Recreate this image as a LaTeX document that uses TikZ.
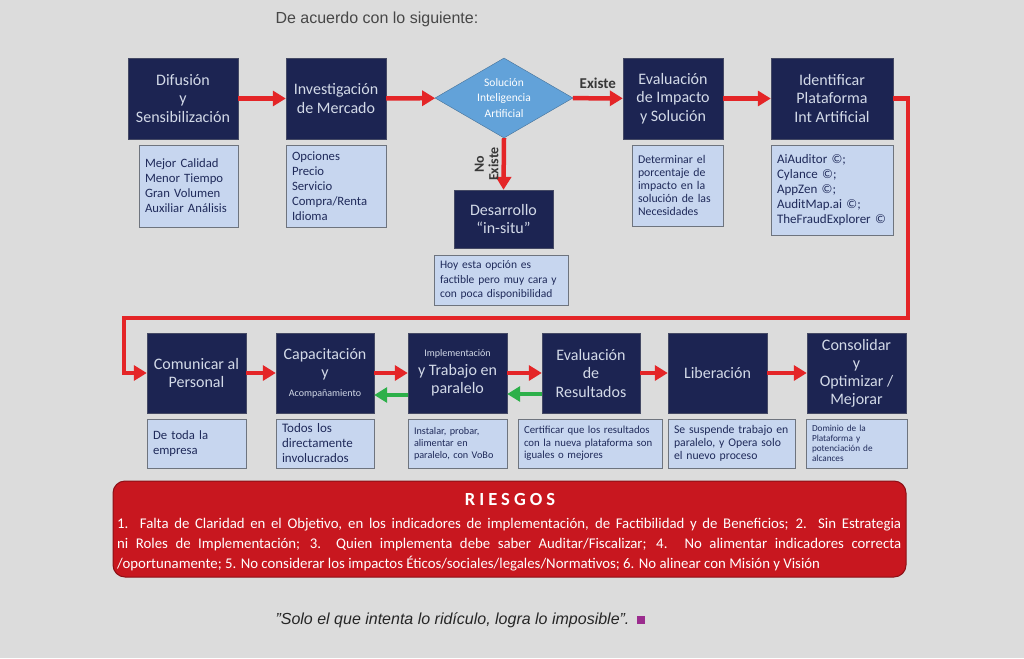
\documentclass[tikz,border=0pt]{standalone}
\usepackage{fontspec}
\setmainfont{Carlito}
\newfontfamily\plainfont{Liberation Sans}
\usepackage{xcolor}
\usepackage{tikz}
\usetikzlibrary{shapes.geometric,arrows.meta}

\definecolor{fondo}{HTML}{DCDCDC}
\definecolor{marino}{HTML}{1C2452}
\definecolor{textoclaro}{HTML}{D3DAE8}
\definecolor{celeste}{HTML}{C7D6EF}
\definecolor{bordenota}{HTML}{6E747E}
\definecolor{textonota}{HTML}{1F2A5A}
\definecolor{azulrombo}{HTML}{62A2D9}
\definecolor{rojo}{HTML}{E42527}
\definecolor{verde}{HTML}{2DB04A}
\definecolor{rojoriesgo}{HTML}{C8171F}
\definecolor{morado}{HTML}{9B2C8E}

\tikzset{
  titulo/.style={rectangle, fill=marino, draw=marino!60!gray, text=textoclaro, align=center,
    minimum height=81pt, inner sep=2pt, font=\fontsize{16}{18.5}\selectfont},
  nota/.style={rectangle, fill=celeste, draw=bordenota, line width=1pt, text=textonota,
    align=left, inner xsep=6pt, font=\fontsize{12.7}{15}\selectfont},
  flecha/.style={draw=rojo, line width=4.5pt, -{Triangle[length=13pt,width=15pt]}},
  regreso/.style={draw=verde, line width=4.5pt, -{Triangle[length=13pt,width=15pt]}},
  etiqueta/.style={text=black!78, font=\bfseries\fontsize{15}{15}\selectfont},
}

\begin{document}
\begin{tikzpicture}[x=1pt,y=-1pt]

	% Background
	\fill[fondo] (0,0) rectangle (1024,658);
	\useasboundingbox (0,0) rectangle (1024,658);

	\node[anchor=west, text=black!72, font=\plainfont\fontsize{16}{18}\selectfont] (intro) at (272,19) {De acuerdo con lo siguiente:};

	% First row
	\node[titulo, minimum width=110pt] (dif) at (183,98.5) {Difusión\\y\\Sensibilización};
	\node[titulo, minimum width=100pt] (inv) at (336,98.5) {Investigación\\de Mercado};
	\node[diamond, aspect=1.725, fill=azulrombo, draw=azulrombo!70!black, text=white, align=center, inner sep=0pt,
	  minimum width=138pt, minimum height=80pt, font=\fontsize{11.5}{15.5}\selectfont] (sol) at (504,98) {Solución\\Inteligencia\\Artificial};
	\node[titulo, minimum width=100pt] (eval) at (673,98.5) {Evaluación\\de Impacto\\y Solución};
	\node[titulo, minimum width=122pt] (ident) at (832,98.5) {Identificar\\Plataforma\\Int Artificial};
	\node[titulo, minimum width=99pt, minimum height=58pt] (desa) at (503.5,219) {Desarrollo\\\textquotedblleft in-situ\textquotedblright};

	% Notes of the first row
	\node[nota, text width=87pt, minimum height=82pt] (difn) at (188.5,186) {Mejor Calidad\\Menor Tiempo\\Gran Volumen\\Auxiliar Análisis};
	\node[nota, text width=88pt, minimum height=82pt] (invn) at (336,186) {Opciones\\Precio\\Servicio\\Compra/Renta\\Idioma};
	\node[nota, text width=79pt, minimum height=81pt, font=\fontsize{11.8}{13}\selectfont] (evaln) at (677.5,185.5) {Determinar el\\porcentaje de\\impacto en la\\solución de las\\Necesidades};
	\node[nota, text width=110pt, minimum height=90pt, font=\fontsize{13}{15}\selectfont] (identn) at (832,190) {AiAuditor ©;\\Cylance ©;\\AppZen ©;\\AuditMap.ai ©;\\TheFraudExplorer ©};
	\node[nota, text width=122pt, minimum height=50pt, font=\fontsize{11.5}{14.5}\selectfont] (desan) at (501,280) {Hoy esta opción es\\factible pero muy cara y\\con poca disponibilidad};

	% Second row
	\node[titulo, minimum width=99pt, minimum height=80pt] (com) at (196.5,373) {Comunicar al\\Personal};
	\node[titulo, minimum width=98pt, minimum height=80pt] (cap) at (325,373) {Capacitación\\y\\{\fontsize{10}{14}\selectfont Acompañamiento}};
	\node[titulo, minimum width=99pt, minimum height=80pt] (impl) at (457.5,373) {{\fontsize{10}{12}\selectfont Implementación}\\y Trabajo en\\paralelo};
	\node[titulo, minimum width=98pt, minimum height=80pt] (evalr) at (591,373) {Evaluación\\de\\Resultados};
	\node[titulo, minimum width=99pt, minimum height=80pt] (lib) at (717.5,373) {Liberación};
	\node[titulo, minimum width=99pt, minimum height=80pt, font=\fontsize{16}{18}\selectfont] (cons) at (856.5,373) {Consolidar\\y\\Optimizar /\\Mejorar};

	% Notes of the second row
	\node[nota, text width=87pt, minimum height=49pt] (comn) at (196.5,443.5) {De toda la\\empresa};
	\node[nota, text width=86pt, minimum height=49pt, font=\fontsize{13}{15}\selectfont] (capn) at (325,443.5) {Todos los\\directamente\\involucrados};
	\node[nota, text width=87pt, minimum height=49pt, font=\fontsize{10.2}{12}\selectfont] (impln) at (457.5,443.5) {Instalar, probar,\\alimentar en\\paralelo, con VoBo};
	\node[nota, text width=132pt, minimum height=49pt, font=\fontsize{10.8}{12.5}\selectfont] (evalrn) at (590,443.5) {Certificar que los resultados\\con la nueva plataforma son\\iguales o mejores};
	\node[nota, text width=115pt, minimum height=49pt, font=\fontsize{11.7}{13}\selectfont] (libn) at (731.5,443.5) {Se suspende trabajo en\\paralelo, y Opera solo\\el nuevo proceso};
	\node[nota, text width=89pt, minimum height=49pt, font=\fontsize{9.2}{10}\selectfont] (consn) at (856.5,443.5) {Dominio de la\\Plataforma y\\potenciación de\\alcances};

	% Arrows
	\draw[flecha] (dif) -- (inv);
	\draw[flecha] (inv) -- (sol);
	\draw[flecha] (sol) -- (eval) node[etiqueta, midway, above=4pt] {Existe};
	\draw[flecha] (sol.south) -- (desa.north) node[etiqueta, midway, rotate=90, anchor=south, align=center, inner sep=3pt, font=\bfseries\fontsize{14}{14.5}\selectfont] {No\\Existe};
	\draw[flecha] (eval) -- (ident);

	\coordinate (vueltaA) at (908,318);
	\coordinate (vueltaB) at (124,318);
	\draw[flecha] (ident.east) -- (ident.east -| vueltaA) -- (vueltaA) -- (vueltaB) |- (com.west);

	\draw[flecha] (com) -- (cap);
	\draw[flecha] (cap) -- (impl);
	\draw[flecha] (impl) -- (evalr);
	\draw[flecha] (evalr) -- (lib);
	\draw[flecha] (lib) -- (cons);
	\draw[regreso] ([yshift=-22pt]impl.west) -- ([yshift=-22pt]cap.east);
	\draw[regreso] ([yshift=-21pt]evalr.west) -- ([yshift=-21pt]impl.east);

	% Risks
	\node[rectangle, rounded corners=12pt, fill=rojoriesgo, draw=rojoriesgo!70!black, line width=1pt,
	  minimum width=793pt, minimum height=96pt] (riesgo) at (509.5,529) {};
	\node[text=white, font=\bfseries\fontsize{18.5}{20}\selectfont\addfontfeatures{LetterSpace=22}] (riesgotit) at (510,499) {RIESGOS};
	\node[text=white, anchor=north west, text width=784pt, align=justify, inner sep=0pt,
	  font=\fontsize{14.8}{20}\selectfont] (riesgotxt) at (117,518)
	  {1. Falta de Claridad en el Objetivo, en los indicadores de implementación, de Factibilidad y de Beneficios; 2. Sin Estrategia\linebreak
	   ni Roles de Implementación; 3.\ \ Quien implementa debe saber Auditar/Fiscalizar; 4. No alimentar indicadores correcta\linebreak
	   /oportunamente; 5. No considerar los impactos Éticos/sociales/legales/Normativos; 6. No alinear con Misión y Visión};

	% Quote
	\node[anchor=west, text=black!85, font=\plainfont\itshape\fontsize{16}{18}\selectfont] (frase) at (272,620) {\textquotedblright Solo el que intenta lo ridículo, logra lo imposible\textquotedblright.};
	\node[fill=morado, minimum size=8pt, inner sep=0pt, anchor=west] (fin) at ([xshift=4pt]frase.east) {};

\end{tikzpicture}
\end{document}
